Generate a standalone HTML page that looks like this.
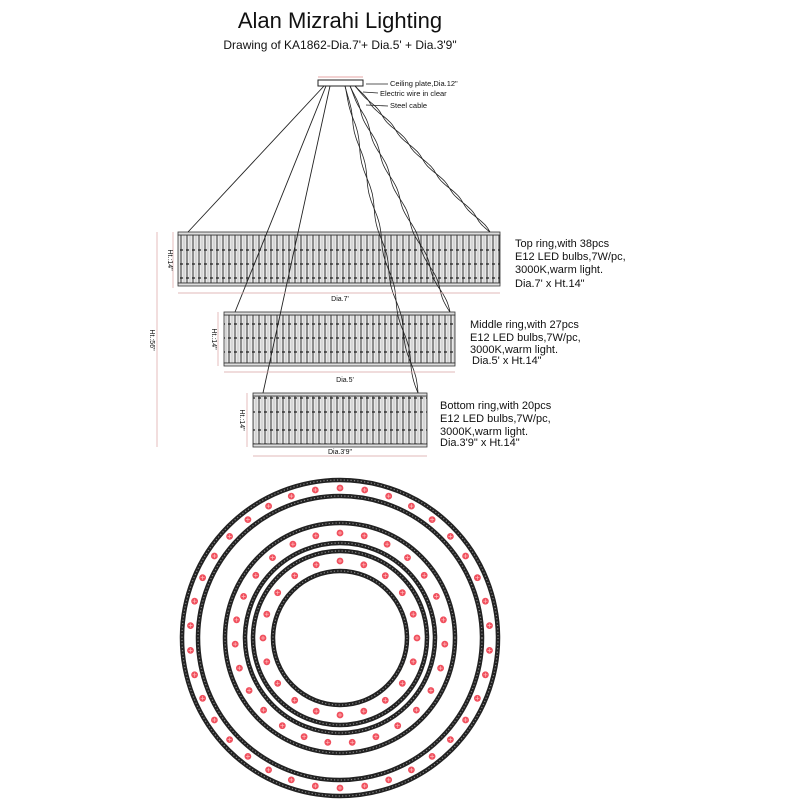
<!DOCTYPE html>
<html><head><meta charset="utf-8"><style>
body{margin:0;background:#fff}
svg{display:block}
text{font-family:"Liberation Sans",sans-serif;fill:#111}
</style></head><body>
<svg id="s" width="800" height="800" viewBox="0 0 800 800" xmlns="http://www.w3.org/2000/svg">
<defs>
<pattern id="col" width="6" height="60" patternUnits="userSpaceOnUse">
<rect width="6" height="60" fill="#e8e8e8"/>
<line x1="1" y1="0" x2="1" y2="60" stroke="#333" stroke-width="1"/>
<line x1="4" y1="0" x2="4" y2="60" stroke="#aaa" stroke-width="0.6"/>
<path d="M0 10h3M0 24h3M0 38h3M0 52h3" stroke="#222" stroke-width="1.2"/>
</pattern>
</defs>
<text x="340" y="28" font-size="22" text-anchor="middle">Alan Mizrahi Lighting</text>
<text x="340" y="49" font-size="12" text-anchor="middle">Drawing of KA1862-Dia.7'+ Dia.5' + Dia.3'9"</text>
<line x1="318" y1="77" x2="363" y2="77" stroke="#d88" stroke-width="0.8"/>
<rect x="318" y="80" width="45" height="6" fill="#fff" stroke="#222" stroke-width="1"/>
<g stroke="#222" stroke-width="0.8">
<line x1="366" y1="84" x2="388" y2="84"/>
<line x1="363" y1="92" x2="378" y2="93"/>
<line x1="366" y1="105" x2="388" y2="106"/>
</g>
<g font-size="7.5">
<text x="390" y="86">Ceiling plate,Dia.12"</text>
<text x="380" y="96">Electric wire in clear</text>
<text x="390" y="108">Steel cable</text>
</g>
<g id="rings"></g>
<g stroke="#222" stroke-width="0.9" fill="none">
<line x1="324" y1="86" x2="188" y2="232"/>
<line x1="326" y1="86" x2="235" y2="312"/>
<line x1="330" y1="86" x2="263" y2="393"/>
</g>
<g id="wavy" stroke="#222" stroke-width="0.8" fill="none"></g>
<g stroke="#d9a0a0" stroke-width="0.7" fill="none">
<line x1="178" y1="293" x2="500" y2="293"/>
<line x1="224" y1="372" x2="455" y2="372"/>
<line x1="253" y1="456" x2="427" y2="456"/>
<line x1="173" y1="232" x2="173" y2="288"/>
<line x1="218" y1="312" x2="218" y2="366"/>
<line x1="247" y1="393" x2="247" y2="447"/>
<line x1="157" y1="232" x2="157" y2="447"/>
</g>
<g font-size="7" text-anchor="middle">
<text x="340" y="301">Dia.7'</text>
<text x="345" y="382">Dia.5'</text>
<text x="340" y="454">Dia.3'9"</text>
<text transform="translate(168,260) rotate(90)">Ht.:14"</text>
<text transform="translate(212,339) rotate(90)">Ht.:14"</text>
<text transform="translate(240,420) rotate(90)">Ht.:14"</text>
<text transform="translate(150,340) rotate(90)">Ht.:56"</text>
</g>
<g font-size="11">
<text x="515" y="247">Top ring,with 38pcs</text>
<text x="515" y="260">E12 LED bulbs,7W/pc,</text>
<text x="515" y="273">3000K,warm light.</text>
<text x="515" y="287">Dia.7' x Ht.14"</text>
<text x="470" y="328">Middle ring,with 27pcs</text>
<text x="470" y="341">E12 LED bulbs,7W/pc,</text>
<text x="470" y="353">3000K,warm light.</text>
<text x="472" y="364">Dia.5' x Ht.14"</text>
<text x="440" y="409">Bottom ring,with 20pcs</text>
<text x="440" y="422">E12 LED bulbs,7W/pc,</text>
<text x="440" y="435">3000K,warm light.</text>
<text x="440" y="446">Dia.3'9" x Ht.14"</text>
</g>
<g id="circ"></g>
</svg>
<script>
var NS="http://www.w3.org/2000/svg";
function el(p,t,a){var e=document.createElementNS(NS,t);for(var k in a)e.setAttribute(k,a[k]);p.appendChild(e);return e;}
var rings=document.getElementById('rings');
[[178,232,500,286],[224,312,455,366],[253,393,427,447]].forEach(function(r){
 var w=r[2]-r[0],h=r[3]-r[1];
 el(rings,'rect',{x:r[0],y:r[1]+3,width:w,height:h-6,fill:'url(#col)',stroke:'#333','stroke-width':0.8});
 el(rings,'rect',{x:r[0],y:r[1],width:w,height:3,fill:'#ddd',stroke:'#333','stroke-width':0.8});
 el(rings,'rect',{x:r[0],y:r[3]-3,width:w,height:3,fill:'#ddd',stroke:'#333','stroke-width':0.8});
});
var wv=document.getElementById('wavy');
function wave(x1,y1,x2,y2,ph){
 var d='M'+x1+' '+y1,n=80;
 for(var i=1;i<=n;i++){var t=i/n,x=x1+(x2-x1)*t,y=y1+(y2-y1)*t;var o=Math.sin(t*Math.PI*10+ph)*1.6*Math.min(1,t*8);d+=' L'+(x+o).toFixed(1)+' '+y.toFixed(1);}
 el(wv,'path',{d:d});
}
[[345,86,418,393],[350,86,450,312],[355,86,490,232]].forEach(function(c){wave(c[0],c[1],c[2],c[3],0);wave(c[0],c[1],c[2],c[3],Math.PI);});
var cg=document.getElementById('circ'),cx=340,cy=638;
function chain(r){
 el(cg,'circle',{cx:cx,cy:cy,r:r,fill:'none',stroke:'#222','stroke-width':4.5});
 el(cg,'circle',{cx:cx,cy:cy,r:r,fill:'none',stroke:'#888','stroke-width':1.2,'stroke-dasharray':'1.2 2.2'});
}
function dots(r,n,off){
 for(var i=0;i<n;i++){var a=off+i*2*Math.PI/n,x=cx+r*Math.cos(a),y=cy+r*Math.sin(a);
  el(cg,'circle',{cx:x.toFixed(1),cy:y.toFixed(1),r:3.4,fill:'#f0505e'});
  el(cg,'path',{d:'M'+(x-2).toFixed(1)+' '+y.toFixed(1)+'h4M'+x.toFixed(1)+' '+(y-2).toFixed(1)+'v4',stroke:'#fbb','stroke-width':0.7});
 }
}
chain(158);chain(142);dots(150,38,-Math.PI/2);
chain(115);chain(95);dots(105,27,-Math.PI/2);
chain(87);chain(67);dots(77,20,-Math.PI/2);
</script>
</body></html>
